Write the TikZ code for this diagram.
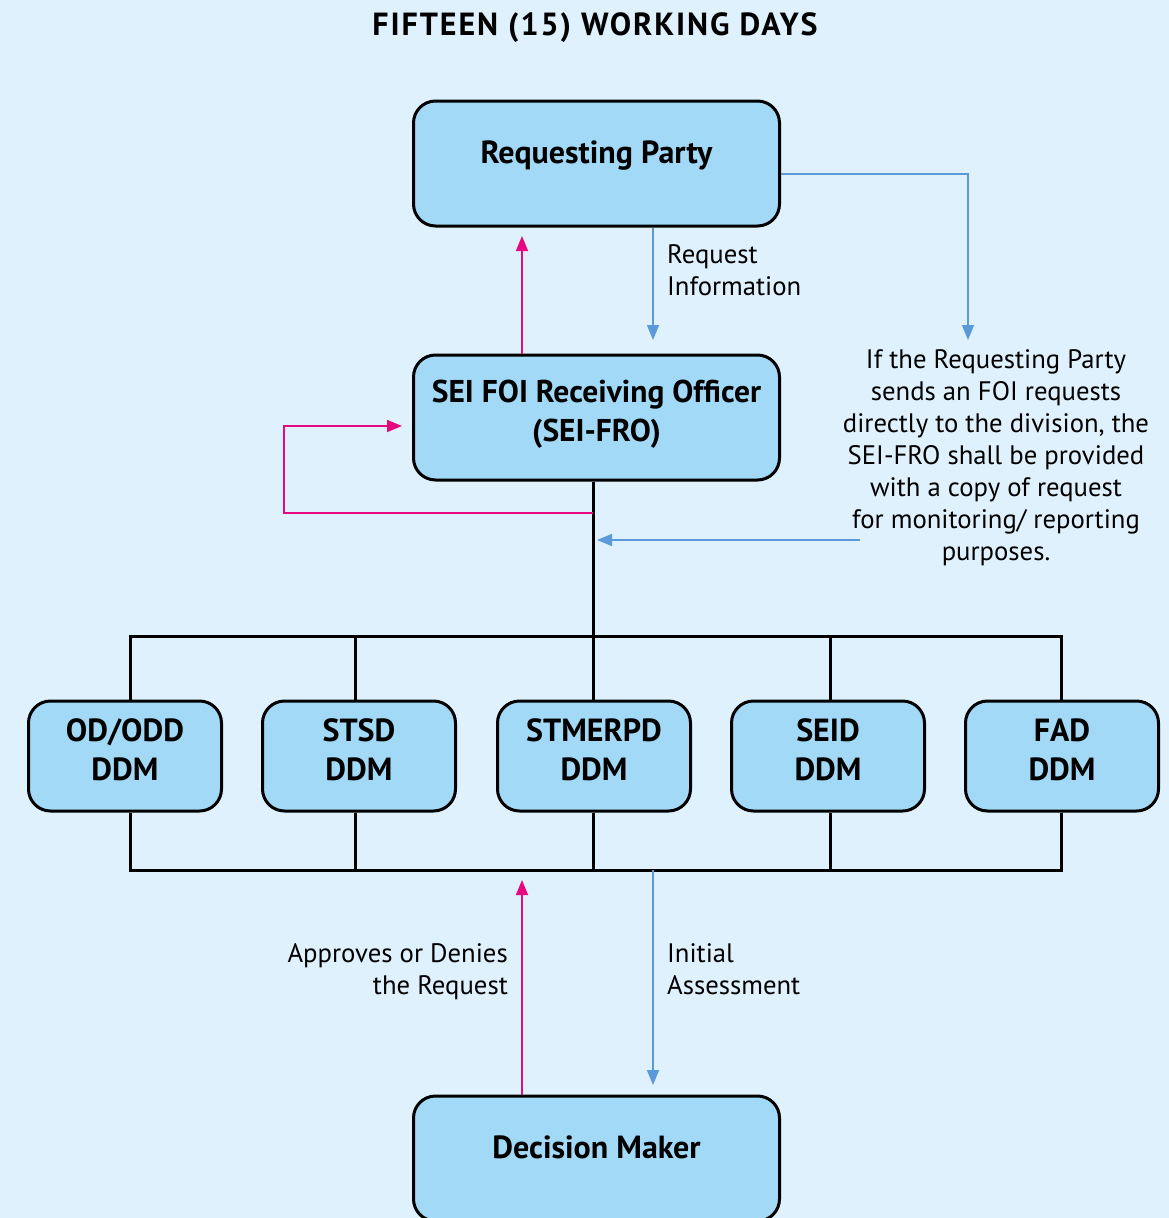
\documentclass[tikz,border=0pt]{standalone}
\usepackage{fontspec}
\setmainfont{PT Sans}
\usetikzlibrary{arrows.meta}
\definecolor{bg}{HTML}{DFF1FD}
\definecolor{boxfill}{HTML}{A2D9F6}
\definecolor{arrblue}{HTML}{5A9AD8}
\definecolor{arrpink}{HTML}{E6087F}
\begin{document}
\begin{tikzpicture}[x=1pt,y=-1pt,
  bigbox/.style={draw=black, line width=3pt, fill=boxfill, rounded corners=22pt,
    inner sep=0pt, minimum width=366pt, minimum height=125pt, anchor=north west,
    font=\fontsize{32}{39}\selectfont\bfseries, align=center},
  ddmbox/.style={draw=black, line width=3pt, fill=boxfill, rounded corners=22pt,
    inner sep=0pt, minimum width=193pt, minimum height=110pt, anchor=north west,
    font=\fontsize{32}{39}\selectfont\bfseries, align=center,
    text height=79.5pt, text depth=30.5pt},
  bus/.style={draw=black, line width=3pt},
  blu/.style={draw=arrblue, line width=1.6pt, -{Triangle[length=15pt,width=12pt]}},
  pnk/.style={draw=arrpink, line width=1.6pt, -{Triangle[length=15pt,width=12pt]}},
  lbl/.style={inner sep=0pt, font=\fontsize{26.7}{32}\selectfont}
]
\fill[bg] (0,0) rectangle (1169,1218);
\useasboundingbox (0,0) rectangle (1169,1218);

\node[anchor=base, inner sep=0pt, font=\fontsize{32}{36}\selectfont\bfseries\addfontfeature{LetterSpace=6}] (title) at (595,35) {FIFTEEN (15) WORKING DAYS};

\node[bigbox, text height=62.5pt, text depth=62.5pt] (rp) at (412,99.5) {Requesting Party};
\node[bigbox, text height=86.5pt, text depth=38.5pt, font=\fontsize{31.5}{39}\selectfont\bfseries] (fro) at (412,353.5) {SEI FOI Receiving Officer\\(SEI-FRO)};
\node[bigbox, text height=62.5pt, text depth=62.5pt] (dm) at (412,1094.5) {Decision Maker};

\node[ddmbox] (od) at (27,699.5) {OD/ODD\\DDM};
\node[ddmbox] (stsd) at (261,699.5) {STSD\\DDM};
\node[ddmbox] (stm) at (496,699.5) {STMERPD\\DDM};
\node[ddmbox] (seid) at (730,699.5) {SEID\\DDM};
\node[ddmbox] (fad) at (964,699.5) {FAD\\DDM};

% bus coordinates
\coordinate (t1) at (130,636); \coordinate (t2) at (355,636); \coordinate (t3) at (593,636);
\coordinate (t4) at (830,636); \coordinate (t5) at (1061,636);
\coordinate (b1) at (130,870); \coordinate (b2) at (355,870); \coordinate (b3) at (593,870);
\coordinate (b4) at (830,870); \coordinate (b5) at (1061,870);

\draw[bus] (t3 |- fro.south) -- (t3);
\draw[bus, line cap=rect] (t1) -- (t5);
\draw[bus, line cap=rect] (b1) -- (b5);
\draw[bus] (t1) -- (t1 |- od.north);
\draw[bus] (t2) -- (t2 |- stsd.north);
\draw[bus] (t3) -- (t3 |- stm.north);
\draw[bus] (t4) -- (t4 |- seid.north);
\draw[bus] (t5) -- (t5 |- fad.north);
\draw[bus] (b1) -- (b1 |- od.south);
\draw[bus] (b2) -- (b2 |- stsd.south);
\draw[bus] (b3) -- (b3 |- stm.south);
\draw[bus] (b4) -- (b4 |- seid.south);
\draw[bus] (b5) -- (b5 |- fad.south);

% labels
\node[lbl, anchor=base west, align=left] (reqinfo) at (667,295) {Request\\Information};
\node[lbl, anchor=base, align=center] (note) at (996,560) {If the Requesting Party\\sends an FOI requests\\directly to the division, the\\SEI-FRO shall be provided\\with a copy of request\\for monitoring/ reporting\\purposes.};
\node[lbl, anchor=base east, align=right] (appr) at (508,994) {Approves or Denies\\the Request};
\node[lbl, anchor=base west, align=left] (init) at (667,994) {Initial\\Assessment};

% arrows
\coordinate (r1) at (968,174);
\coordinate (r2) at (968,340);
\draw[blu] (r1 -| rp.east) -- (r1) -- (r2);

\coordinate (q1) at (653,340);
\draw[blu] (q1 |- rp.south) -- (q1);

\coordinate (p1) at (522,236);
\draw[pnk] (p1 |- fro.north) -- (p1);

\coordinate (L1) at (284,513);
\coordinate (L2) at (402,426);
\draw[pnk] (L1 -| t3) -- (L1) |- (L2);

\coordinate (s1) at (860,540);
\coordinate (s2) at (597,540);
\draw[blu] (s1) -- (s2);

\coordinate (p2) at (522,880);
\draw[pnk] (p2 |- dm.north) -- (p2);

\coordinate (q2) at (653,1085);
\draw[blu] (q2 |- b3) -- (q2);
\end{tikzpicture}
\end{document}
